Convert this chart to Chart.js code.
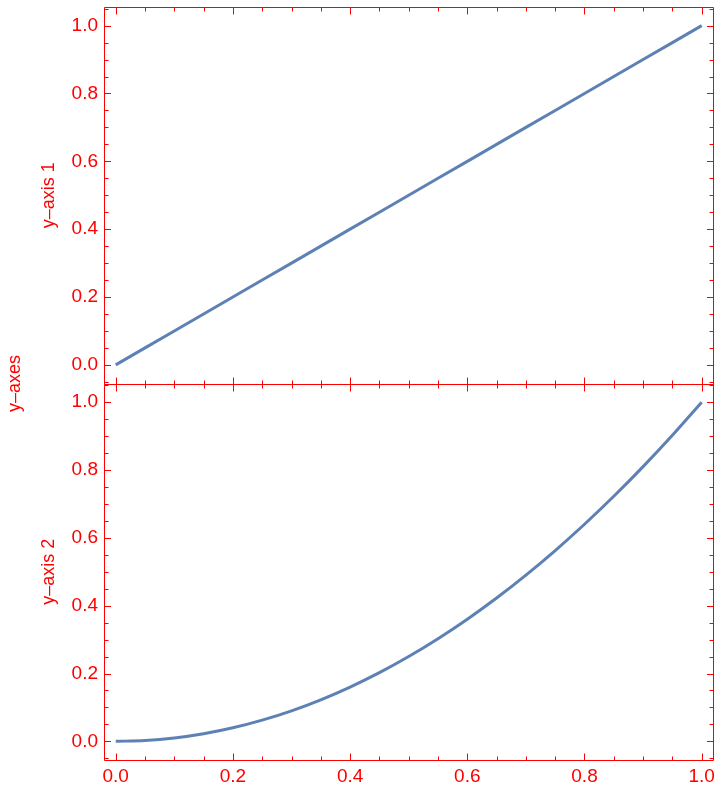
<!DOCTYPE html>
<html>
<head>
<meta charset="utf-8">
<script src="https://cdn.jsdelivr.net/npm/chart.js@4"></script>
<style>
  html, body { margin: 0; padding: 0; background: #fff; }
  #wrap { width: 720px; height: 788px; }
</style>
</head>
<body>
<div id="wrap"><canvas id="chart"></canvas></div>
<script>
const xValues = [0, 0.05, 0.1, 0.15, 0.2, 0.25, 0.3, 0.35, 0.4, 0.45, 0.5,
  0.55, 0.6, 0.65, 0.7, 0.75, 0.8, 0.85, 0.9, 0.95, 1];
// top panel: straight line
const series1 = [0, 0.05, 0.1, 0.15, 0.2, 0.25, 0.3, 0.35, 0.4, 0.45, 0.5,
  0.55, 0.6, 0.65, 0.7, 0.75, 0.8, 0.85, 0.9, 0.95, 1];
// bottom panel: parabola
const series2 = [0, 0.0025, 0.01, 0.0225, 0.04, 0.0625, 0.09, 0.1225, 0.16, 0.2025, 0.25,
  0.3025, 0.36, 0.4225, 0.49, 0.5625, 0.64, 0.7225, 0.81, 0.9025, 1];

const xTicks = [0, 0.2, 0.4, 0.6, 0.8, 1];
const xTickLabels = ["0.0", "0.2", "0.4", "0.6", "0.8", "1.0"];
const yTicks = [0, 0.2, 0.4, 0.6, 0.8, 1];
const yTickLabels = ["0.0", "0.2", "0.4", "0.6", "0.8", "1.0"];

const RED = "#ff0000";
const LINE = "#5e81b5";
const FONT = "'Liberation Sans', Arial, sans-serif";

function points(ys) {
  return xValues.map((x, i) => ({ x, y: ys[i] }));
}

function noOverhang(s) {
  s.paddingTop = 0;
  s.paddingBottom = 0;
  s.paddingLeft = 0;
  s.paddingRight = 0;
}

function yScale(title) {
  return {
    type: "linear",
    position: "left",
    stack: "panels",
    stackWeight: 1,
    min: -0.055,
    max: 1.055,
    grid: { display: false, drawTicks: false },
    border: { display: false },
    afterBuildTicks: (s) => { s.ticks = yTicks.map((v) => ({ value: v })); },
    afterFit: (s) => { s.width = 104; noOverhang(s); },
    ticks: {
      color: RED,
      padding: 6,
      font: { family: FONT, size: 19 },
      callback: (v, i) => yTickLabels[i],
    },
    title: {
      display: true,
      text: title,
      color: RED,
      font: { family: FONT, size: 18 },
      padding: { top: 38, bottom: 0 },
    },
  };
}

// frame + inward ticks, Mathematica style
const framePlugin = {
  id: "frame",
  afterDatasetsDraw(chart) {
    const ctx = chart.ctx;
    const xs = chart.scales.x;
    const left = Math.round(xs.left) + 0.5;
    const right = Math.round(xs.right) - 0.5;
    ctx.save();
    ctx.strokeStyle = RED;
    ctx.lineWidth = 1;
    ["y1", "y2"].forEach((id) => {
      const ys = chart.scales[id];
      const top = Math.round(ys.top) + 0.5;
      const bottom = Math.round(ys.bottom) + 0.5;
      ctx.beginPath();
      ctx.rect(left, top, right - left, bottom - top);
      // y ticks
      for (let k = -1; k <= 21; k++) {
        const v = k * 0.05;
        if (v < ys.min || v > ys.max) continue;
        const len = k % 4 === 0 ? 6.5 : 4;
        const p = Math.round(ys.getPixelForValue(v)) + 0.5;
        ctx.moveTo(left, p); ctx.lineTo(left + len, p);
        ctx.moveTo(right, p); ctx.lineTo(right - len, p);
      }
      // x ticks
      for (let k = 0; k <= 20; k++) {
        const v = k * 0.05;
        const len = k % 4 === 0 ? 7 : 4;
        const p = Math.round(xs.getPixelForValue(v)) + 0.5;
        ctx.moveTo(p, top); ctx.lineTo(p, top + len);
        ctx.moveTo(p, bottom); ctx.lineTo(p, bottom - len);
      }
      ctx.stroke();
    });
    // outer label
    ctx.fillStyle = RED;
    ctx.font = "18px " + FONT;
    ctx.textAlign = "center";
    ctx.textBaseline = "middle";
    ctx.translate(15.5, (chart.chartArea.top + chart.chartArea.bottom) / 2);
    ctx.rotate(-Math.PI / 2);
    ctx.fillText("y\u2013axes", 0, 0);
    ctx.restore();
  },
};

new Chart(document.getElementById("chart"), {
  type: "line",
  data: {
    datasets: [
      {
        label: "y1",
        data: points(series1),
        yAxisID: "y1",
        borderColor: LINE,
        borderWidth: 3,
        pointRadius: 0,
        fill: false,
      },
      {
        label: "y2",
        data: points(series2),
        yAxisID: "y2",
        borderColor: LINE,
        borderWidth: 3,
        pointRadius: 0,
        fill: false,
        cubicInterpolationMode: "monotone",
      },
    ],
  },
  options: {
    responsive: true,
    maintainAspectRatio: false,
    animation: false,
    layout: { padding: { left: 0, right: 6, top: 7, bottom: 0 } },
    plugins: { legend: { display: false }, tooltip: { enabled: false } },
    scales: {
      x: {
        type: "linear",
        min: -0.02,
        max: 1.021,
        grid: { display: false, drawTicks: false },
        border: { display: false },
        afterBuildTicks: (s) => { s.ticks = xTicks.map((v) => ({ value: v })); },
        afterFit: (s) => { s.height = 28; noOverhang(s); },
        ticks: {
          color: RED,
          padding: 5,
          maxRotation: 0,
          font: { family: FONT, size: 19 },
          callback: (v, i) => xTickLabels[i],
        },
      },
      y2: yScale("y\u2013axis 2"),
      y1: yScale("y\u2013axis 1"),
    },
  },
  plugins: [framePlugin],
});
</script>
</body>
</html>
